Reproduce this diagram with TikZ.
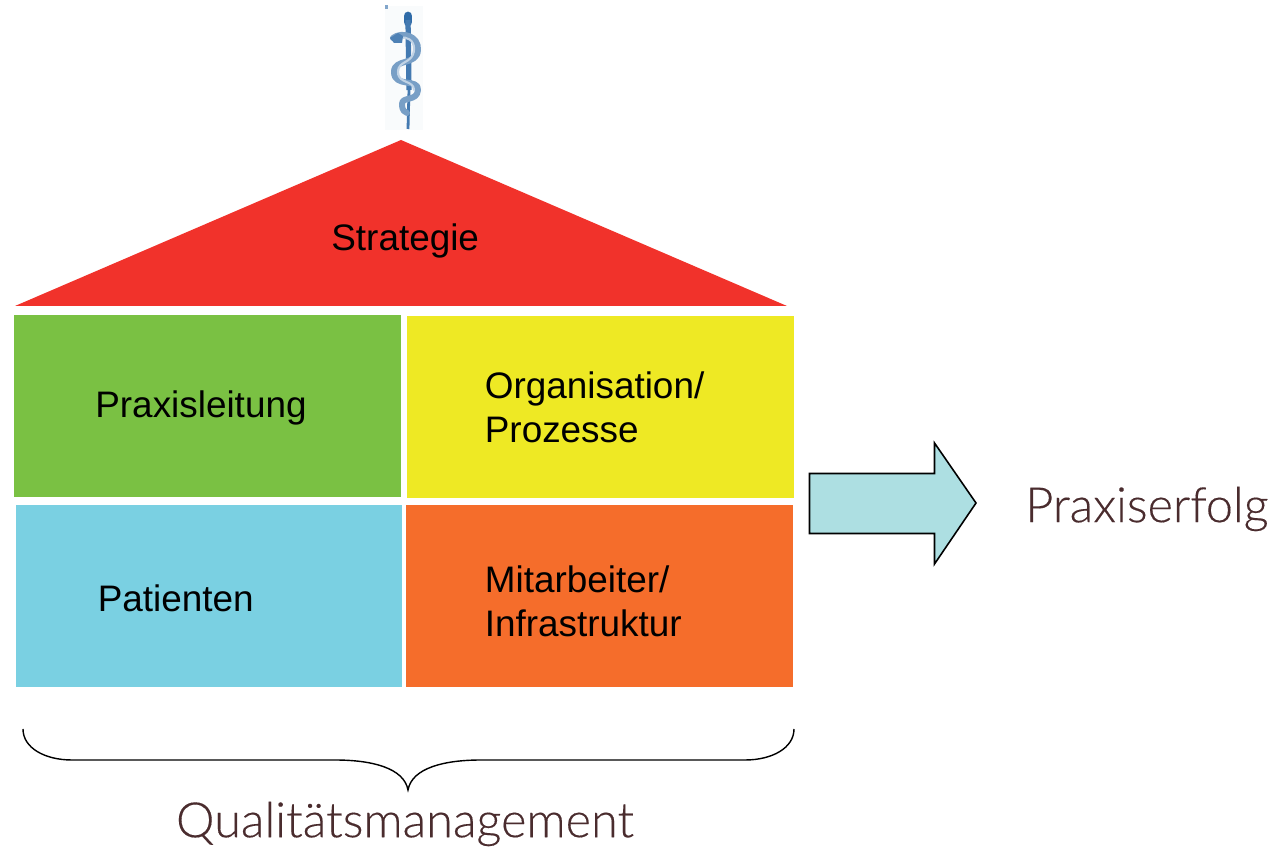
\documentclass[tikz,border=0pt]{standalone}
\usepackage{fontspec}
\setmainfont{Liberation Sans}
\newfontfamily\headfont[FakeBold=0.25]{Lato Light}
\usepackage{tikz}
\definecolor{roofred}{HTML}{F1322B}
\definecolor{leafgreen}{HTML}{7AC143}
\definecolor{signyellow}{HTML}{EEE924}
\definecolor{skyblue}{HTML}{7AD0E2}
\definecolor{brickorange}{HTML}{F56D2B}
\definecolor{arrowteal}{HTML}{ADDFE2}
\definecolor{headbrown}{HTML}{4A2C2E}
\definecolor{staffblue}{HTML}{2F6BA8}
\tikzset{
  cell/.style={fill=#1,draw=none,inner sep=0pt,anchor=north west},
  cellname/.style={font=\fontsize{21}{25}\selectfont,align=left,anchor=west,inner sep=0pt,text=black},
  headline/.style={font=\headfont\fontsize{27.7}{32}\selectfont,text=headbrown,inner sep=0pt},
  snake/.style={line width=#1,line cap=round,line join=round}
}
\begin{document}
\begin{tikzpicture}[x=0.02cm,y=-0.02cm]
    \useasboundingbox (0,0) rectangle (1282,847);
    % staff on the roof
    \fill[staffblue!3] (385,6) rectangle (423,130);
    \fill[staffblue!60] (385,5) rectangle (388,9);
    \draw[staffblue,snake=5pt] (408,16) -- (408,22);
    \draw[staffblue!90,line width=3pt] (408,20) -- (409,90);
    \draw[staffblue!90,line width=1.6pt] (409,90) -- (408,129);
    \draw[staffblue!65,snake=3.4pt] (393,38) .. controls (402,31) and (419,36) .. (418,50) .. controls (417,66) and (394,58) .. (394,72) .. controls (394,88) and (419,78) .. (418,90) .. controls (417,102) and (402,96) .. (402,104) .. controls (402,111) and (405,112) .. (407,113);
    \draw[white!70!staffblue,snake=1.2pt] (400,38) .. controls (406,36) and (415,40) .. (414,50) .. controls (413,64) and (398,60) .. (398,72) .. controls (398,84) and (414,80) .. (414,90);
    \fill[staffblue!85] (390,38) -- (398,33) -- (403,36) -- (402,43) -- (394,43) -- cycle;
    % roof
    \fill[roofred] (401,140) -- (787,306) -- (15,306) -- cycle;
    \node[cellname] (strategie) at (331,241) {Strategie};
    % cells
    \node[cell=leafgreen,minimum width=387*0.02cm,minimum height=182*0.02cm] (praxis) at (14,315) {};
    \node[cell=signyellow,minimum width=387*0.02cm,minimum height=182*0.02cm] (orga) at (407,316) {};
    \node[cell=skyblue,minimum width=386*0.02cm,minimum height=182*0.02cm] (patienten) at (16,505) {};
    \node[cell=brickorange,minimum width=387*0.02cm,minimum height=182*0.02cm] (personal) at (406,505) {};
    \node[cellname] (praxisname) at (95,408) {Praxisleitung};
    \node[cellname] (organame) at (484.5,407) {Organisation/\\Prozesse};
    \node[cellname] (patientenname) at (97.5,598) {Patienten};
    \node[cellname] (personalname) at (484.5,601) {Mitarbeiter/\\Infrastruktur};
    % arrow to the right
    \draw[fill=arrowteal,line width=0.9pt,line join=miter] (809.5,473.5) -- (934.5,473.5) -- (934.5,443) -- (976,503) -- (934.5,564) -- (934.5,533.5) -- (809.5,533.5) -- cycle;
    \node[headline,anchor=west] (erfolg) at (1025,509) {Praxiserfolg};
    % brace
    \draw[line width=0.8pt] (23,729) .. controls (23,748) and (45,760) .. (72,760) -- (335,760) .. controls (372,760) and (404,768) .. (408,790) .. controls (412,768) and (444,760) .. (481,760) -- (745,760) .. controls (772,760) and (794,748) .. (794,729);
    \node[headline,anchor=center] (qm) at (405,824) {Qualitätsmanagement};
  \end{tikzpicture}
\end{document}
